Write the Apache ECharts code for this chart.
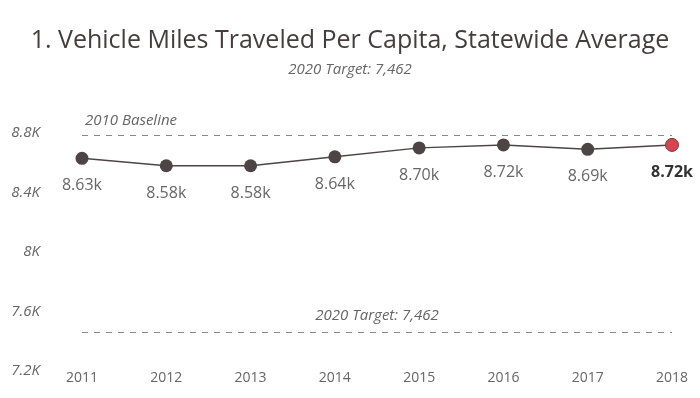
<!DOCTYPE html>
<html>
<head>
<meta charset="utf-8">
<script src="https://cdn.jsdelivr.net/npm/echarts@6/dist/echarts.min.js"></script>
<style>
  html, body { margin: 0; padding: 0; background: #fff; }
  #chart { width: 700px; height: 398px; }
</style>
</head>
<body>
<div id="chart"></div>
<script>
const years = ['2011', '2012', '2013', '2014', '2015', '2016', '2017', '2018']
const vmtPerCapita = [8630, 8580, 8580, 8640, 8700, 8720, 8690, 8720]
const baseline2010 = 8787
const target2020 = 7462
const yTicks = [7200, 7600, 8000, 8400, 8800]

const dark = '#4d4545'
const grey = '#666'
const fmtK = v => (v / 1000).toFixed(2) + 'k'

const lastIdx = vmtPerCapita.length - 1
const seriesData = vmtPerCapita.map((v, i) => {
  if (i !== lastIdx) return v
  return {
    value: v,
    itemStyle: { color: '#d8434f', borderColor: '#7a3a3a', borderWidth: 1 },
    label: { color: '#333', fontWeight: 'bold', distance: 13 }
  }
})

const myChart = echarts.init(document.getElementById('chart'))
myChart.setOption({
  animation: false,
  title: {
    text: '1. Vehicle Miles Traveled Per Capita, Statewide Average',
    subtext: '2020 Target: 7,462',
    left: 'center',
    top: 23,
    itemGap: 9,
    textStyle: {
      fontFamily: 'Open Sans',
      fontSize: 25,
      fontWeight: 'normal',
      color: '#453d3d'
    },
    subtextStyle: {
      fontFamily: 'Open Sans',
      fontSize: 15,
      fontStyle: 'italic',
      color: grey
    }
  },
  grid: {
    left: 82,
    right: 28,
    top: 133,
    bottom: 27
  },
  xAxis: {
    type: 'category',
    data: years,
    boundaryGap: false,
    axisLine: { show: false },
    axisTick: { show: false },
    axisLabel: {
      margin: 0,
      fontFamily: 'Open Sans',
      fontSize: 14,
      color: grey
    }
  },
  yAxis: {
    type: 'value',
    min: yTicks[0],
    max: yTicks[yTicks.length - 1],
    interval: 400,
    splitLine: { show: false },
    axisLabel: {
      margin: 42,
      fontFamily: 'Open Sans',
      fontSize: 15,
      fontStyle: 'italic',
      color: grey,
      formatter: v => (v / 1000) + 'K'
    }
  },
  series: [
    {
      type: 'line',
      data: seriesData,
      symbol: 'circle',
      symbolSize: 13,
      color: dark,
      itemStyle: { color: dark },
      lineStyle: { color: dark, width: 1.5 },
      label: {
        show: true,
        position: 'bottom',
        distance: 13,
        fontFamily: 'Open Sans',
        fontSize: 16,
        color: grey,
        formatter: p => fmtK(p.value)
      },
      markLine: {
        silent: true,
        symbol: 'none',
        lineStyle: { color: '#888', type: [6, 6], width: 1 },
        label: {
          fontFamily: 'Open Sans',
          fontSize: 15,
          fontStyle: 'italic',
          color: grey
        },
        data: [
          {
            yAxis: baseline2010,
            label: { position: 'insideStartTop', formatter: '2010 Baseline', distance: [3, 7] }
          },
          {
            yAxis: target2020,
            label: { position: 'insideMiddleTop', formatter: '2020 Target: 7,462', distance: 9 }
          }
        ]
      }
    }
  ]
})
</script>
</body>
</html>
